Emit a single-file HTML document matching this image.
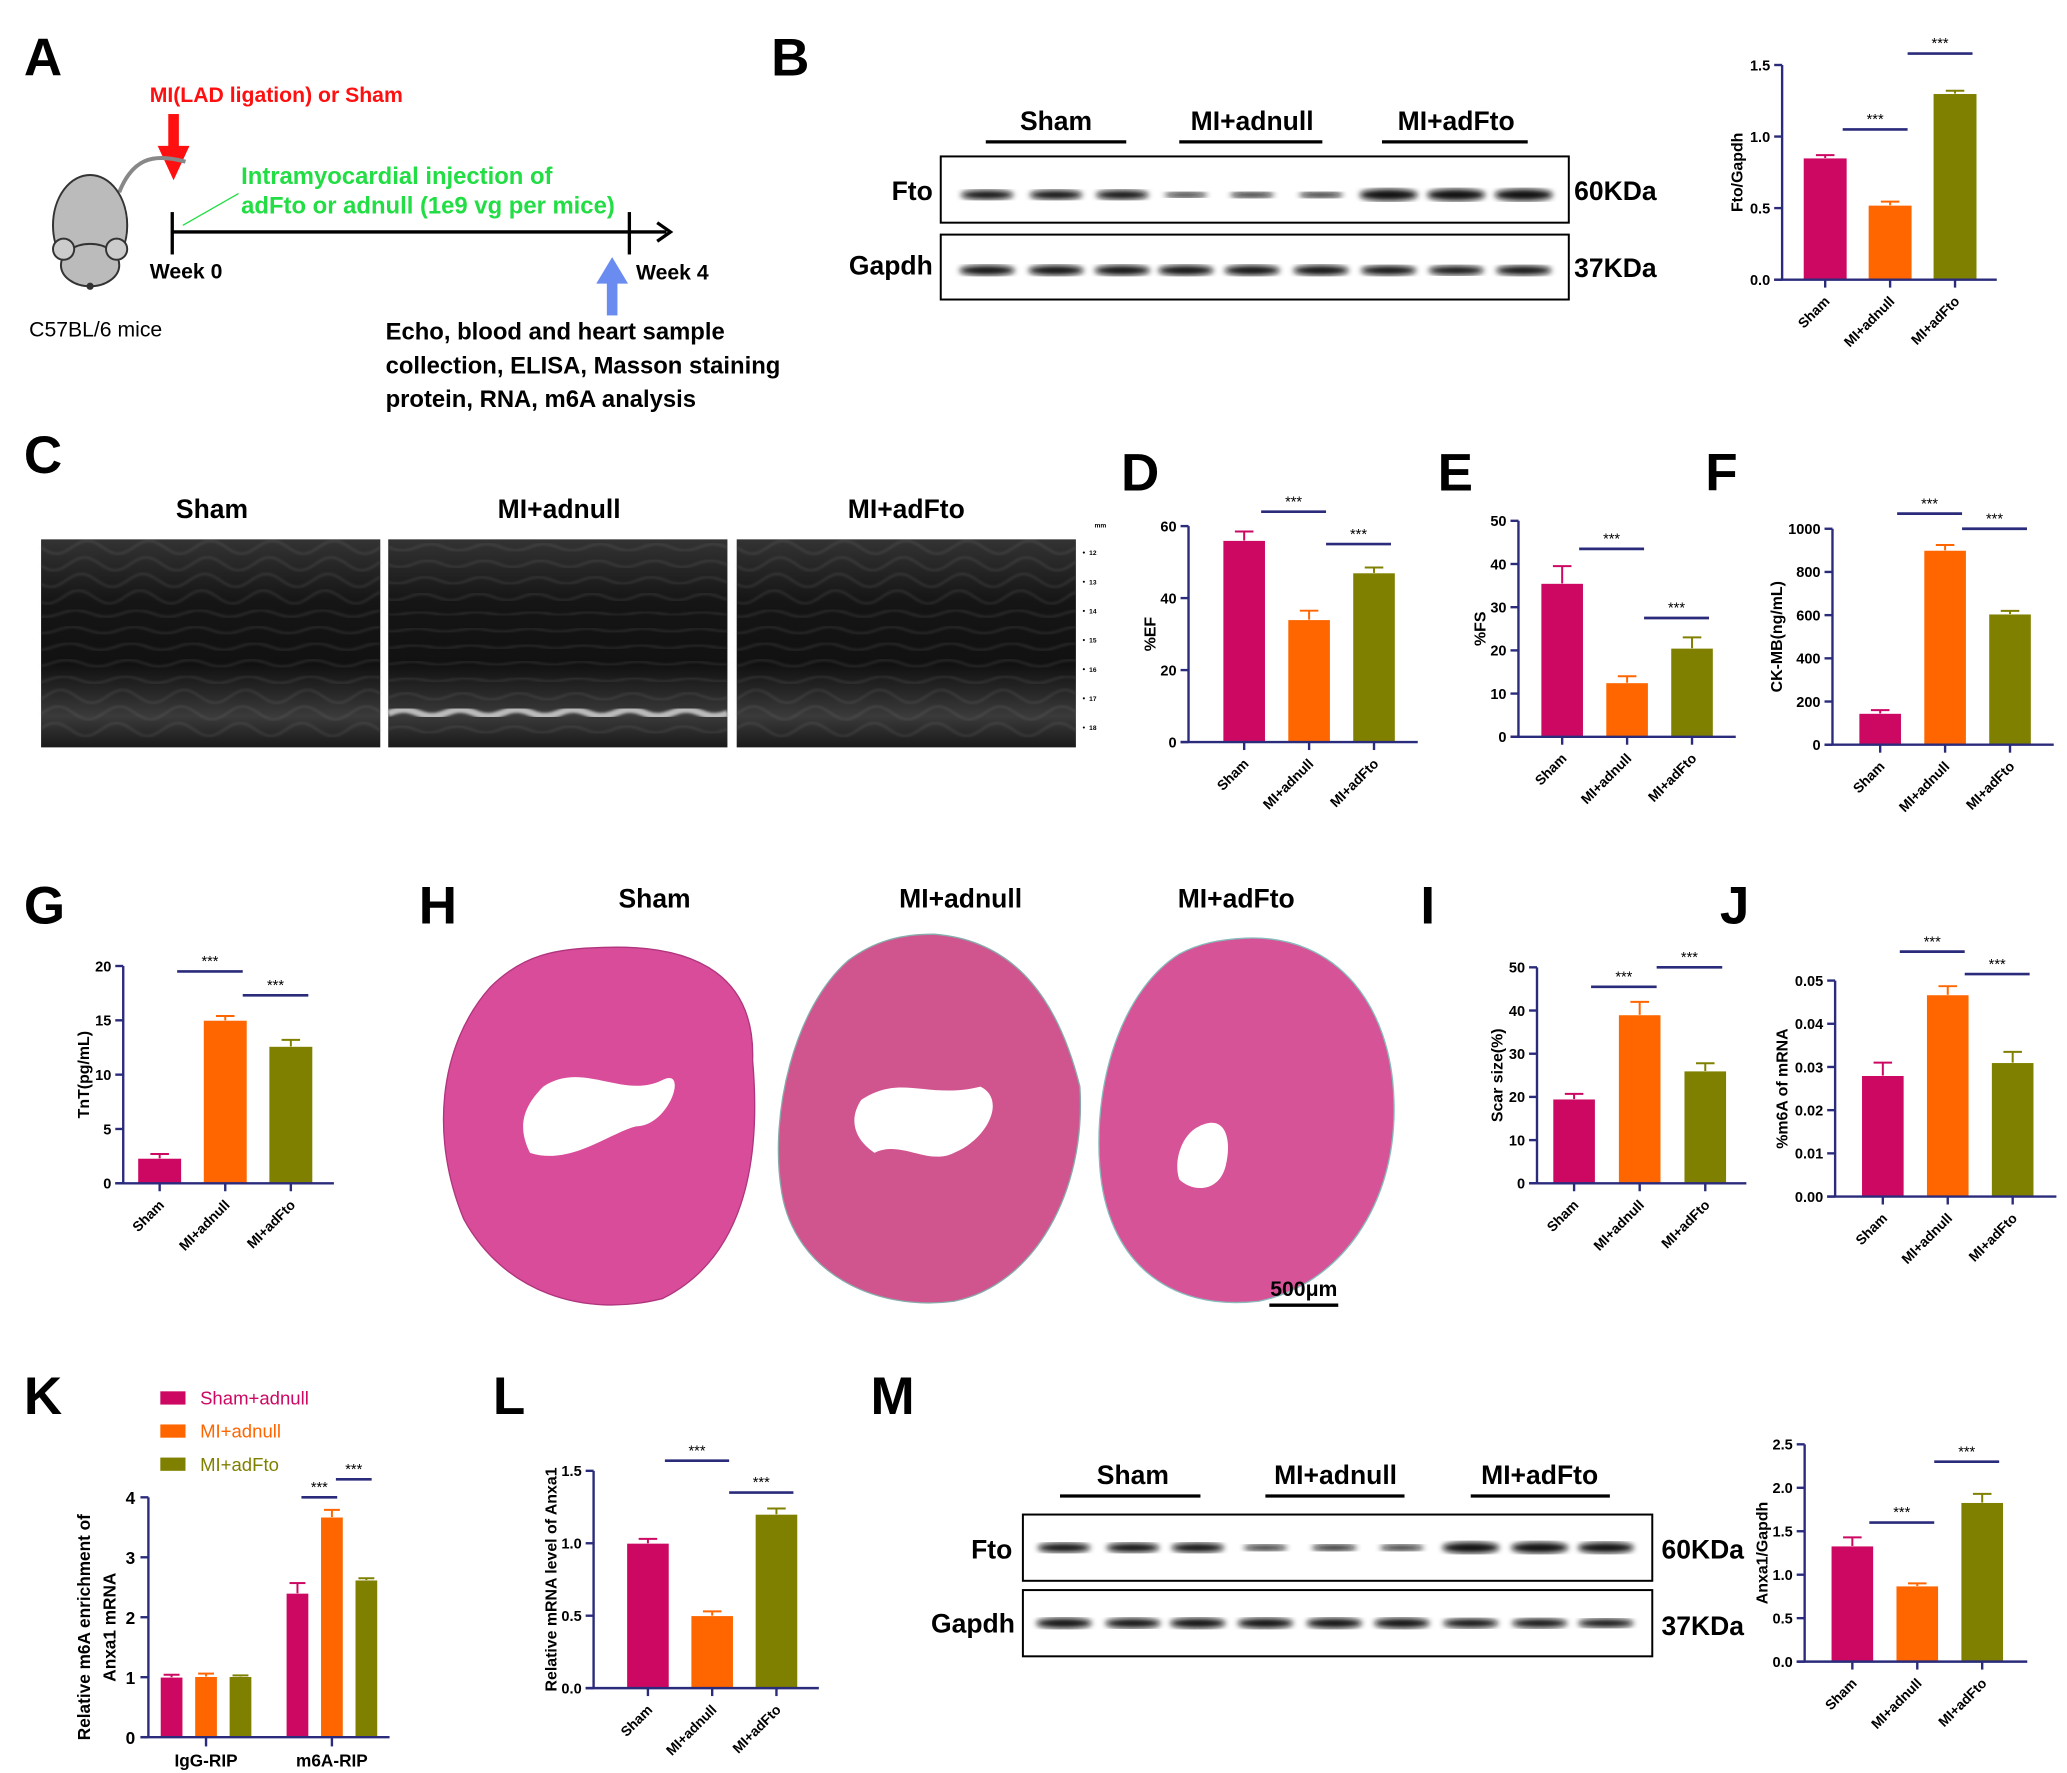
<!DOCTYPE html>
<html><head><meta charset="utf-8"><style>
html,body{margin:0;padding:0;background:#fff}
svg{display:block}
text{font-family:"Liberation Sans",Arial,sans-serif}
</style></head><body>
<svg id="fig" width="2067" height="1773" viewBox="0 0 1560 1338" xmlns="http://www.w3.org/2000/svg">
<defs>
<filter id="blur1"><feGaussianBlur stdDeviation="2.2"/></filter>
<filter id="blur2"><feGaussianBlur stdDeviation="1"/></filter>
<linearGradient id="echoG" x1="0" y1="0" x2="0" y2="1">
<stop offset="0" stop-color="#333"/><stop offset="0.3" stop-color="#151515"/><stop offset="0.6" stop-color="#111"/><stop offset="0.85" stop-color="#3a3a3a"/><stop offset="1" stop-color="#1a1a1a"/></linearGradient>
</defs>
<g id="static" font-weight="bold">
<!-- Panel A -->
<text x="18" y="57" font-size="40">A</text>
<text x="113" y="77" font-size="16" fill="#ff1010">MI(LAD ligation) or Sham</text>
<g><rect x="127" y="86" width="8" height="26" fill="#ff1010"/><polygon points="119,110 143,110 131,136" fill="#ff1010"/></g>
<text font-size="18" fill="#22dd44"><tspan x="182" y="139">Intramyocardial injection of</tspan><tspan x="182" y="161">adFto or adnull (1e9 vg per mice)</tspan></text>
<line x1="138" y1="170" x2="180" y2="146" stroke="#22dd44" stroke-width="1"/>
<g stroke="#000" stroke-width="2.5"><line x1="130" y1="175" x2="503" y2="175"/><line x1="130" y1="160" x2="130" y2="192"/><line x1="475" y1="160" x2="475" y2="192"/><polyline points="496,168 506,175 496,182" fill="none"/></g>
<text x="113" y="210" font-size="16">Week 0</text>
<text x="480" y="211" font-size="16">Week 4</text>
<g><rect x="458" y="212" width="8" height="26" fill="#6a8cf0"/><polygon points="450,214 474,214 462,194" fill="#6a8cf0"/></g>
<g stroke="#333" stroke-width="1.5">
<path d="M90,145 C100,120 115,115 140,122" fill="none" stroke="#888" stroke-width="3"/>
<ellipse cx="68" cy="170" rx="28" ry="38" fill="#bbb"/>
<ellipse cx="68" cy="200" rx="22" ry="16" fill="#bbb"/>
<circle cx="48" cy="188" r="8" fill="#ccc"/><circle cx="88" cy="188" r="8" fill="#ccc"/>
<circle cx="68" cy="216" r="2" fill="#333"/>
</g>
<text x="22" y="254" font-size="16" font-weight="normal">C57BL/6 mice</text>
<text font-size="18"><tspan x="291" y="256">Echo, blood and heart sample</tspan><tspan x="291" y="282">collection, ELISA, Masson staining</tspan><tspan x="291" y="307">protein, RNA, m6A analysis</tspan></text>
<!-- Panel B blot -->
<text x="582" y="57" font-size="40">B</text>
<text x="797" y="98" font-size="20" text-anchor="middle">Sham</text><line x1="744" y1="107" x2="850" y2="107" stroke="#000" stroke-width="2.5"/>
<text x="945" y="98" font-size="20" text-anchor="middle">MI+adnull</text><line x1="890" y1="107" x2="998" y2="107" stroke="#000" stroke-width="2.5"/>
<text x="1099" y="98" font-size="20" text-anchor="middle">MI+adFto</text><line x1="1043" y1="107" x2="1153" y2="107" stroke="#000" stroke-width="2.5"/>
<rect x="710" y="118" width="474" height="50" fill="#fff" stroke="#000" stroke-width="1.5"/>
<rect x="710" y="177" width="474" height="49" fill="#fff" stroke="#000" stroke-width="1.5"/>
<text x="704" y="151" font-size="20" text-anchor="end">Fto</text><text x="704" y="207" font-size="20" text-anchor="end">Gapdh</text>
<text x="1188" y="151" font-size="20">60KDa</text><text x="1188" y="209" font-size="20">37KDa</text>
<g id="bandsB"></g>
<!-- Panel C -->
<text x="18" y="357" font-size="40">C</text>
<text x="160" y="391" font-size="20" text-anchor="middle">Sham</text>
<text x="422" y="391" font-size="20" text-anchor="middle">MI+adnull</text>
<text x="684" y="391" font-size="20" text-anchor="middle">MI+adFto</text>
<g id="echo"></g>
<!-- Panel labels -->
<text x="846" y="370" font-size="40">D</text>
<text x="1085" y="370" font-size="40">E</text>
<text x="1287" y="370" font-size="40">F</text>
<text x="18" y="697" font-size="40">G</text>
<text x="316" y="697" font-size="40">H</text>
<text x="1072" y="697" font-size="40">I</text>
<text x="1298" y="697" font-size="40">J</text>
<text x="18" y="1067" font-size="40">K</text>
<text x="372" y="1067" font-size="40">L</text>
<text x="657" y="1067" font-size="40">M</text>
<!-- Panel H -->
<text x="494" y="685" font-size="20" text-anchor="middle">Sham</text>
<text x="725" y="685" font-size="20" text-anchor="middle">MI+adnull</text>
<text x="933" y="685" font-size="20" text-anchor="middle">MI+adFto</text>
<g>
<path d="M455,715 C530,712 570,740 568,800 C575,880 560,950 500,980 C440,995 380,975 350,920 C325,860 330,790 370,745 C395,720 420,716 455,715Z" fill="#d84c9a" stroke="#b0357e"/>
<path d="M410,820 C440,800 470,830 500,815 C520,805 505,850 480,850 C460,855 430,880 400,870 C390,850 395,835 410,820Z" fill="#fff"/>
</g>
<g>
<path d="M705,705 C770,710 800,760 815,820 C820,900 780,970 720,982 C660,990 600,960 590,900 C580,840 600,760 640,725 C660,710 680,705 705,705Z" fill="#d0558f" stroke="#8aa"/>
<path d="M650,830 C680,810 700,830 740,820 C760,830 745,860 720,870 C700,880 680,860 660,870 C645,860 640,845 650,830Z" fill="#fff"/>
</g>
<g>
<path d="M940,708 C1010,705 1050,760 1052,830 C1055,910 1010,970 950,982 C880,990 835,950 830,880 C825,810 850,745 890,720 C905,712 920,709 940,708Z" fill="#d65397" stroke="#8bb"/>
<path d="M905,850 C925,840 930,860 925,880 C920,900 900,900 890,890 C885,875 893,855 905,850Z" fill="#fff"/>
</g>
<line x1="958" y1="985" x2="1010" y2="985" stroke="#000" stroke-width="2.5"/>
<text x="984" y="978" font-size="16" text-anchor="middle">500μm</text>
<!-- Panel M blot -->
<text x="855" y="1120" font-size="20" text-anchor="middle">Sham</text><line x1="800" y1="1129" x2="906" y2="1129" stroke="#000" stroke-width="2.5"/>
<text x="1008" y="1120" font-size="20" text-anchor="middle">MI+adnull</text><line x1="955" y1="1129" x2="1060" y2="1129" stroke="#000" stroke-width="2.5"/>
<text x="1162" y="1120" font-size="20" text-anchor="middle">MI+adFto</text><line x1="1110" y1="1129" x2="1215" y2="1129" stroke="#000" stroke-width="2.5"/>
<rect x="772" y="1143" width="475" height="50" fill="#fff" stroke="#000" stroke-width="1.5"/>
<rect x="772" y="1200" width="475" height="50" fill="#fff" stroke="#000" stroke-width="1.5"/>
<text x="764" y="1176" font-size="20" text-anchor="end">Fto</text><text x="766" y="1232" font-size="20" text-anchor="end">Gapdh</text>
<text x="1254" y="1176" font-size="20">60KDa</text><text x="1254" y="1234" font-size="20">37KDa</text>
<g id="bandsM"></g>
<!-- K legend -->
<g font-weight="normal" font-size="14">
<rect x="121" y="1050" width="19" height="10" fill="#cc0863"/><text x="151" y="1060" fill="#cc0863">Sham+adnull</text>
<rect x="121" y="1075" width="19" height="10" fill="#ff6600"/><text x="151" y="1085" fill="#ff6600">MI+adnull</text>
<rect x="121" y="1100" width="19" height="10" fill="#808000"/><text x="151" y="1110" fill="#808000">MI+adFto</text>
</g>
</g>
<g id="charts"></g>
</svg>
<script>
// ---- data ----
const groupCats=['Sham','MI+adnull','MI+adFto'];
const bVals=[0.85,0.52,1.30], bErr=[0.02,0.025,0.02], bTicks=[0,0.5,1.0,1.5], bTickLabels=['0.0','0.5','1.0','1.5'];
const dVals=[56,34,47], dErr=[2.5,2.5,1.5], dTicks=[0,20,40,60], dTickLabels=['0','20','40','60'];
const eVals=[35.5,12.5,20.5], eErr=[4,1.5,2.5], eTicks=[0,10,20,30,40,50], eTickLabels=['0','10','20','30','40','50'];
const fVals=[145,900,605], fErr=[15,25,15], fTicks=[0,200,400,600,800,1000], fTickLabels=['0','200','400','600','800','1000'];
const gVals=[2.3,15,12.6], gErr=[0.4,0.4,0.6], gTicks=[0,5,10,15,20], gTickLabels=['0','5','10','15','20'];
const iVals=[19.5,39,26], iErr=[1.2,3,1.8], iTicks=[0,10,20,30,40,50], iTickLabels=['0','10','20','30','40','50'];
const jVals=[0.028,0.0467,0.031], jErr=[0.003,0.002,0.0025], jTicks=[0,0.01,0.02,0.03,0.04,0.05], jTickLabels=['0.00','0.01','0.02','0.03','0.04','0.05'];
const kCats=['IgG-RIP','m6A-RIP'];
const kSham=[1.0,2.4], kShamErr=[0.04,0.17];
const kMi=[1.01,3.67], kMiErr=[0.05,0.12];
const kFto=[1.01,2.62], kFtoErr=[0.02,0.03];
const kTicks=[0,1,2,3,4], kTickLabels=['0','1','2','3','4'];
const lVals=[1.0,0.5,1.2], lErr=[0.03,0.03,0.04], lTicks=[0,0.5,1.0,1.5], lTickLabels=['0.0','0.5','1.0','1.5'];
const mVals=[1.33,0.87,1.83], mErr=[0.1,0.03,0.1], mTicks=[0,0.5,1.0,1.5,2.0,2.5], mTickLabels=['0.0','0.5','1.0','1.5','2.0','2.5'];
// significance: [fromBar, toBar, value level]
const bSig=[[0,1,1.05],[1,2,1.58]];
const dSig=[[0,1,64],[1,2,55]];
const eSig=[[0,1,43.5],[1,2,27.5]];
const fSig=[[0,1,1070],[1,2,1000]];
const gSig=[[0,1,19.5],[1,2,17.3]];
const iSig=[[0,1,45.5],[1,2,50]];
const jSig=[[0,1,0.0567],[1,2,0.0515]];
// K: [group, fromBar, toBar, level]
const kSig=[[1,0,1,4.0],[1,1,2,4.3]];
const lSig=[[0,1,1.57],[1,2,1.35]];
const mSig=[[0,1,1.6],[1,2,2.3]];
const blotB_Fto=[1,1,1,0.55,0.6,0.6,1.25,1.25,1.25];
const blotB_Gapdh=[1,1,1,1,1,1,0.95,0.9,0.95];
const blotM_Fto=[1,1,1,0.6,0.65,0.6,1.2,1.2,1.15];
const blotM_Gapdh=[1,0.95,1,1,1,1,0.9,0.9,0.85];

const COLORS=['#cc0863','#ff6600','#808000'];
const AX='#2b2b7c';
const NS='http://www.w3.org/2000/svg';
const charts=document.getElementById('charts');
function mk(tag,attrs,parent){const e=document.createElementNS(NS,tag);for(const k in attrs)e.setAttribute(k,attrs[k]);(parent||charts).appendChild(e);return e;}

function barChart(name,cfg,vals,errs,ticks,tickLabels,sig,ylabel){
  const g=mk('g',{});
  
  
  const max=ticks[ticks.length-1];
  const y=v=>cfg.yBot-(cfg.yBot-cfg.yTop)*v/max;
  const cx=i=>cfg.left+cfg.bw/2+i*cfg.step;
  vals.forEach((v,i)=>{
    const r=mk('rect',{x:cx(i)-cfg.bw/2,y:y(v),width:cfg.bw,height:cfg.yBot-y(v),fill:COLORS[i],stroke:'#fff','stroke-width':0.6},g);
    
    
    mk('line',{x1:cx(i),x2:cx(i),y1:y(v),y2:y(v+errs[i]),stroke:COLORS[i],'stroke-width':1.5},g);
    mk('line',{x1:cx(i)-7,x2:cx(i)+7,y1:y(v+errs[i]),y2:y(v+errs[i]),stroke:COLORS[i],'stroke-width':1.5},g);
    const lbl=mk('text',{x:0,y:0,'font-size':10.5,'font-weight':'bold','text-anchor':'end',transform:`translate(${cx(i)+4},${cfg.yBot+17}) rotate(-45)`},g);
    lbl.textContent=groupCats[i];
    
    
    mk('line',{x1:cx(i),x2:cx(i),y1:cfg.yBot,y2:cfg.yBot+6,stroke:AX,'stroke-width':1.8},g);
  });
  mk('line',{x1:cfg.x0,x2:cfg.x0,y1:cfg.yTop,y2:cfg.yBot,stroke:AX,'stroke-width':1.8},g);
  mk('line',{x1:cfg.x0-6,x2:cfg.xEnd,y1:cfg.yBot,y2:cfg.yBot,stroke:AX,'stroke-width':1.8},g);
  ticks.forEach((t,k)=>{
    mk('line',{x1:cfg.x0-6,x2:cfg.x0,y1:y(t),y2:y(t),stroke:AX,'stroke-width':1.8},g);
    const tl=mk('text',{x:cfg.x0-9,y:y(t)+4,'font-size':11,'font-weight':'bold','text-anchor':'end'},g);
    tl.textContent=tickLabels[k];
    
    
  });
  sig.forEach(s=>{
    const yy=y(s[2]);
    mk('line',{x1:cx(s[0])+0.4*cfg.bw,x2:cx(s[1])+0.4*cfg.bw,y1:yy,y2:yy,stroke:AX,'stroke-width':2},g);
    const st=mk('text',{x:(cx(s[0])+cx(s[1]))/2+0.4*cfg.bw,y:yy-4,'font-size':11,'text-anchor':'middle'},g);
    st.textContent='***';
    
    
  });
  const yl=mk('text',{x:0,y:0,'font-size':12,'font-weight':'bold','text-anchor':'middle',transform:`translate(${cfg.x0-cfg.labOff},${(cfg.yTop+cfg.yBot)/2}) rotate(-90)`},g);
  yl.textContent=ylabel;
  
  
}

barChart('chart-b-fto-gapdh',{x0:1345,xEnd:1507,yTop:49,yBot:211,left:1361,bw:33,step:49,labOff:30},bVals,bErr,bTicks,bTickLabels,bSig,'Fto/Gapdh');
barChart('chart-d-ef',{x0:897,xEnd:1070,yTop:397,yBot:560,left:923,bw:32,step:49,labOff:25},dVals,dErr,dTicks,dTickLabels,dSig,'%EF');
barChart('chart-e-fs',{x0:1146,xEnd:1310,yTop:393,yBot:556,left:1163,bw:32,step:49,labOff:25},eVals,eErr,eTicks,eTickLabels,eSig,'%FS');
barChart('chart-f-ckmb',{x0:1383,xEnd:1550,yTop:399,yBot:562,left:1403,bw:32,step:49,labOff:38},fVals,fErr,fTicks,fTickLabels,fSig,'CK-MB(ng/mL)');
barChart('chart-g-tnt',{x0:93,xEnd:252,yTop:729,yBot:893,left:104,bw:33,step:49.5,labOff:26},gVals,gErr,gTicks,gTickLabels,gSig,'TnT(pg/mL)');
barChart('chart-i-scar',{x0:1160,xEnd:1318,yTop:730,yBot:893,left:1172,bw:32,step:49.5,labOff:26},iVals,iErr,iTicks,iTickLabels,iSig,'Scar size(%)');
barChart('chart-j-m6a',{x0:1385,xEnd:1552,yTop:740,yBot:903,left:1405,bw:32,step:49,labOff:36},jVals,jErr,jTicks,jTickLabels,jSig,'%m6A of mRNA');
barChart('chart-l-anxa1',{x0:448,xEnd:618,yTop:1110,yBot:1274,left:473,bw:32,step:48.5,labOff:28},lVals,lErr,lTicks,lTickLabels,lSig,'Relative mRNA level of Anxa1');
barChart('chart-m-anxa1-gapdh',{x0:1362,xEnd:1530,yTop:1090,yBot:1254,left:1382,bw:32,step:49,labOff:28},mVals,mErr,mTicks,mTickLabels,mSig,'Anxa1/Gapdh');

// grouped chart K
(function(){
  const g=mk('g',{});
  
  
  const x0=112,xEnd=294,yTop=1130,yBot=1311,bw=17,inner=26,groupLeft=[121,216];
  const max=kTicks[kTicks.length-1];
  const y=v=>yBot-(yBot-yTop)*v/max;
  const series=[[kSham,kShamErr],[kMi,kMiErr],[kFto,kFtoErr]];
  const bx=(gi,si)=>groupLeft[gi]+si*inner+bw/2;
  kCats.forEach((c,gi)=>{
    series.forEach((s,si)=>{
      const v=s[0][gi],e=s[1][gi],cx=bx(gi,si);
      const r=mk('rect',{x:cx-bw/2,y:y(v),width:bw,height:yBot-y(v),fill:COLORS[si],stroke:'#fff','stroke-width':0.6},g);
      
      
      mk('line',{x1:cx,x2:cx,y1:y(v),y2:y(v+e),stroke:COLORS[si],'stroke-width':1.5},g);
      mk('line',{x1:cx-6,x2:cx+6,y1:y(v+e),y2:y(v+e),stroke:COLORS[si],'stroke-width':1.5},g);
    });
    const mid=bx(gi,1);
    mk('line',{x1:mid,x2:mid,y1:yBot,y2:yBot+7,stroke:AX,'stroke-width':1.8},g);
    const t=mk('text',{x:mid,y:yBot+22,'font-size':13,'font-weight':'bold','text-anchor':'middle'},g);
    t.textContent=c;
    
    
  });
  mk('line',{x1:x0,x2:x0,y1:yTop,y2:yBot,stroke:AX,'stroke-width':1.8},g);
  mk('line',{x1:x0-6,x2:xEnd,y1:yBot,y2:yBot,stroke:AX,'stroke-width':1.8},g);
  kTicks.forEach((tk,k)=>{
    mk('line',{x1:x0-6,x2:x0,y1:y(tk),y2:y(tk),stroke:AX,'stroke-width':1.8},g);
    const tl=mk('text',{x:x0-10,y:y(tk)+5,'font-size':13,'font-weight':'bold','text-anchor':'end'},g);
    tl.textContent=kTickLabels[k];
    
    
  });
  kSig.forEach(s=>{
    const yy=y(s[3]);
    const a=bx(s[0],s[1])+3, b=bx(s[0],s[2])+4;
    mk('line',{x1:a,x2:b,y1:yy,y2:yy,stroke:AX,'stroke-width':2},g);
    const st=mk('text',{x:(a+b)/2,y:yy-4,'font-size':11,'text-anchor':'middle'},g);
    st.textContent='***';
    
    
  });
  const yl=mk('text',{x:0,y:0,'font-size':13,'font-weight':'bold','text-anchor':'middle',transform:`translate(68,1228) rotate(-90)`},g);
  yl.textContent='Relative m6A enrichment of';
  
  
  const yl2=mk('text',{x:0,y:0,'font-size':13,'font-weight':'bold','text-anchor':'middle',transform:`translate(87,1228) rotate(-90)`},g);
  yl2.textContent='Anxa1 mRNA';
  
  
})();

// blot bands
function bands(parentId,xs,yF,yG,fto,gap){
  const p=document.getElementById(parentId);
  xs.forEach((x,i)=>{
    const a=mk('ellipse',{cx:x,cy:yF,rx:20*Math.min(1.1,0.6+0.4*fto[i]),ry:3.5*fto[i],fill:'#111',filter:'url(#blur1)'},p);
    
    
    const b=mk('ellipse',{cx:x,cy:yG,rx:21,ry:3.8*gap[i],fill:'#111',filter:'url(#blur1)'},p);
    
    
  });
}
bands('bandsB',[745,797,847,895,945,997,1048,1099,1150],147,204,blotB_Fto,blotB_Gapdh);
bands('bandsM',[803,855,904,955,1007,1058,1110,1162,1212],1168,1225,blotM_Fto,blotM_Gapdh);

// echo images (decorative)
(function(){
  const p=document.getElementById('echo');
  const xs=[31,293,556];
  xs.forEach((x0,k)=>{
    const r=mk('rect',{x:x0,y:407,width:256,height:157,fill:'url(#echoG)'},p);
    
    
    for(let L=0;L<12;L++){
      let d='';
      const base=413+L*12.5, amp=(k===1?2.5:5)*(L<4||L>8?1:0.5);
      for(let i=0;i<=64;i++){const x=x0+i*4;const yy=base+amp*Math.sin(i/64*Math.PI*2*(k===1?6:5.5)+L*0.3);d+=(i?'L':'M')+x+','+yy.toFixed(1);}
      const bright=(k===1&&L===10);
      mk('path',{d:d,fill:'none',stroke:bright?'#ddd':'#888','stroke-width':bright?5:1,opacity:bright?0.8:0.35,filter:'url(#blur2)'},p);
    }
  });
  const labs=['12','13','14','15','16','17','18'];
  mk('text',{x:826,y:398,'font-size':5},p).textContent='mm';
  labs.forEach((l,i)=>{
    const yy=419+i*22;
    mk('circle',{cx:818,cy:yy-2,r:0.8,fill:'#000'},p);
    mk('text',{x:822,y:yy,'font-size':5},p).textContent=l;
  });
})();
</script>
</body></html>
